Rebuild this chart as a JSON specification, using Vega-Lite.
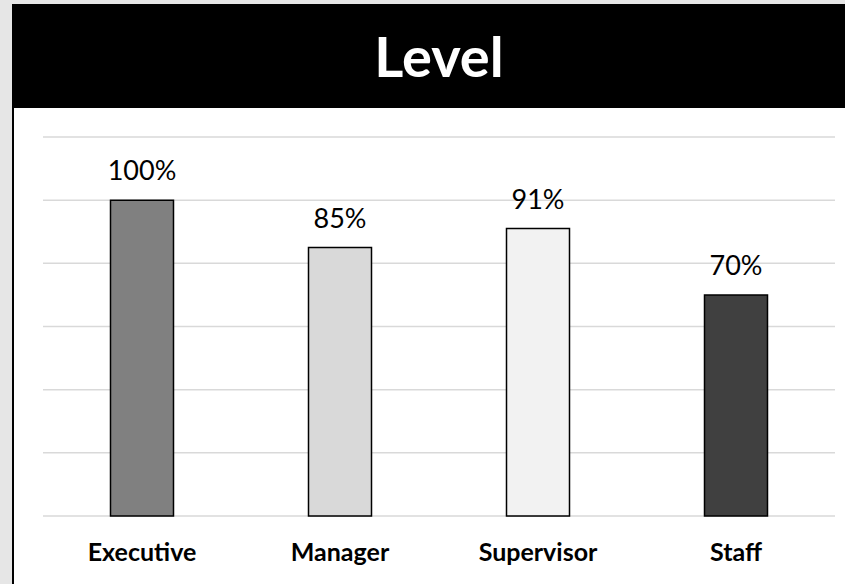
{
  "$schema": "https://vega.github.io/schema/vega-lite/v6.json",
  "usermeta": {"embedOptions": {"actions": false}},
  "width": 832,
  "height": 580,
  "autosize": "none",
  "padding": {"left": 13, "top": 4, "right": 0, "bottom": 0},
  "background": "#e6e6e6",
  "config": {"view": {"fill": "white", "stroke": null}},
  "datasets": {
    "levels": [
      {"level": "Executive", "value": 1.0},
      {"level": "Manager", "value": 0.85},
      {"level": "Supervisor", "value": 0.91},
      {"level": "Staff", "value": 0.70}
    ],
    "grid": [{"g": 0}, {"g": 0.2}, {"g": 0.4}, {"g": 0.6}, {"g": 0.8}, {"g": 1.0}, {"g": 1.2}]
  },
  "layer": [
    {
      "data": {"values": [{}]},
      "mark": {"type": "rect", "color": "black"},
      "encoding": {
        "y": {"datum": 1.2918, "type": "quantitative", "scale": {"domain": [-0.2153, 1.6211], "nice": false, "zero": false}, "axis": null},
        "y2": {"datum": 1.6211}
      }
    },
    {
      "data": {"name": "grid"},
      "mark": {"type": "rule", "color": "#d9d9d9", "strokeWidth": 1.5},
      "encoding": {
        "y": {"field": "g", "type": "quantitative", "scale": {"domain": [-0.2153, 1.6211], "nice": false, "zero": false}, "axis": null},
        "x": {"datum": 0, "type": "quantitative", "scale": {"domain": [-0.037879, 1.012626], "nice": false, "zero": false}, "axis": null},
        "x2": {"datum": 1}
      }
    },
    {
      "data": {"name": "levels"},
      "encoding": {
        "x": {"field": "level", "type": "nominal", "sort": null, "scale": {"paddingInner": 0, "paddingOuter": 0.10101, "align": 0.75}, "axis": null}
      },
      "layer": [
        {
          "mark": {"type": "bar", "size": 63, "stroke": "black", "strokeWidth": 1.5},
          "encoding": {
            "y": {"field": "value", "type": "quantitative", "scale": {"domain": [-0.2153, 1.6211], "nice": false, "zero": false}, "axis": null},
            "y2": {"datum": 0},
            "fill": {"field": "level", "type": "nominal", "sort": null, "scale": {"domain": ["Executive", "Manager", "Supervisor", "Staff"], "range": ["#808080", "#d9d9d9", "#f2f2f2", "#404040"]}, "legend": null}
          }
        },
        {
          "mark": {"type": "text", "font": "Lato", "fontSize": 27, "color": "black", "align": "center", "baseline": "alphabetic", "dy": -20},
          "encoding": {
            "y": {"field": "value", "type": "quantitative", "scale": {"domain": [-0.2153, 1.6211], "nice": false, "zero": false}, "axis": null},
            "text": {"field": "value", "type": "quantitative", "format": ".0%"}
          }
        },
        {
          "mark": {"type": "text", "font": "Lato", "fontSize": 25, "fontWeight": "bold", "color": "black", "align": "center", "baseline": "alphabetic"},
          "encoding": {
            "y": {"datum": -0.1425, "type": "quantitative", "scale": {"domain": [-0.2153, 1.6211], "nice": false, "zero": false}, "axis": null},
            "text": {"field": "level", "type": "nominal"}
          }
        }
      ]
    },
    {
      "data": {"values": [{}]},
      "mark": {"type": "text", "text": "Level", "font": "Lato", "fontSize": 56, "fontWeight": "bold", "color": "white", "align": "center", "baseline": "alphabetic"},
      "encoding": {
        "x": {"datum": 0.5, "type": "quantitative", "scale": {"domain": [-0.037879, 1.012626], "nice": false, "zero": false}, "axis": null},
        "y": {"datum": 1.39, "type": "quantitative", "scale": {"domain": [-0.2153, 1.6211], "nice": false, "zero": false}, "axis": null}
      }
    },
    {
      "data": {"values": [{}]},
      "mark": {"type": "rule", "color": "black", "strokeWidth": 2},
      "encoding": {
        "x": {"datum": -0.037879, "type": "quantitative", "scale": {"domain": [-0.037879, 1.012626], "nice": false, "zero": false}, "axis": null}
      }
    }
  ],
  "resolve": {"scale": {"x": "independent"}}
}
